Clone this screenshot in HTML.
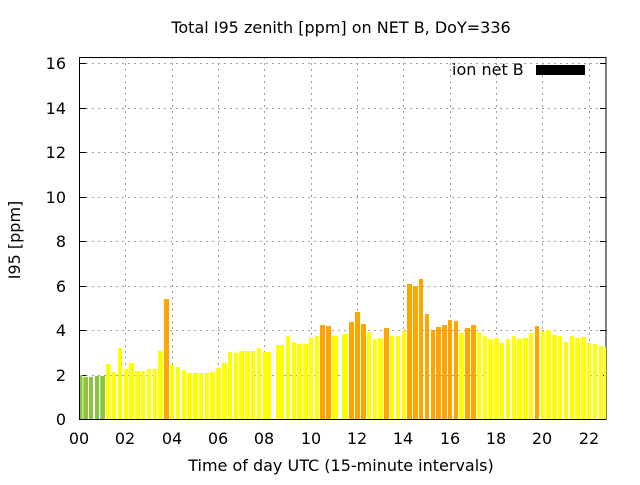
<!DOCTYPE html>
<html><head><meta charset="utf-8"><style>
html,body{margin:0;padding:0;background:#fff}
svg text{font-family:"DejaVu Sans","Liberation Sans",sans-serif;font-size:16px;fill:#000}
</style></head><body>
<svg width="640" height="480" xmlns="http://www.w3.org/2000/svg">
<g stroke="#a0a0a0" stroke-width="1" stroke-dasharray="2,4">
<line x1="80" y1="375.5" x2="606" y2="375.5"/><line x1="80" y1="330.5" x2="606" y2="330.5"/>
<line x1="80" y1="286.5" x2="606" y2="286.5"/><line x1="80" y1="241.5" x2="606" y2="241.5"/>
<line x1="80" y1="197.5" x2="606" y2="197.5"/><line x1="80" y1="152.5" x2="606" y2="152.5"/>
<line x1="80" y1="108.5" x2="606" y2="108.5"/><line x1="80" y1="63.5" x2="606" y2="63.5"/>
<line x1="125.5" y1="57" x2="125.5" y2="419"/><line x1="172.5" y1="57" x2="172.5" y2="419"/>
<line x1="218.5" y1="57" x2="218.5" y2="419"/><line x1="264.5" y1="57" x2="264.5" y2="419"/>
<line x1="311.5" y1="57" x2="311.5" y2="419"/><line x1="357.5" y1="57" x2="357.5" y2="419"/>
<line x1="403.5" y1="57" x2="403.5" y2="419"/><line x1="450.5" y1="57" x2="450.5" y2="419"/>
<line x1="496.5" y1="57" x2="496.5" y2="419"/><line x1="542.5" y1="57" x2="542.5" y2="419"/>
<line x1="589.5" y1="57" x2="589.5" y2="419"/>
</g>
<rect x="536" y="65" width="49" height="10" fill="#000"/>
<text x="452" y="75">ion net B</text>
<rect x="79.5" y="57.5" width="526.5" height="362" fill="none" stroke="#000" stroke-width="1"/>
<g stroke="#000">
<line x1="80" y1="375.5" x2="86" y2="375.5"/><line x1="80" y1="330.5" x2="86" y2="330.5"/>
<line x1="80" y1="286.5" x2="86" y2="286.5"/><line x1="80" y1="241.5" x2="86" y2="241.5"/>
<line x1="80" y1="197.5" x2="86" y2="197.5"/><line x1="80" y1="152.5" x2="86" y2="152.5"/>
<line x1="80" y1="108.5" x2="86" y2="108.5"/><line x1="80" y1="63.5" x2="86" y2="63.5"/>
<line x1="606" y1="375.5" x2="600" y2="375.5"/><line x1="606" y1="330.5" x2="600" y2="330.5"/>
<line x1="606" y1="286.5" x2="600" y2="286.5"/><line x1="606" y1="241.5" x2="600" y2="241.5"/>
<line x1="606" y1="197.5" x2="600" y2="197.5"/><line x1="606" y1="152.5" x2="600" y2="152.5"/>
<line x1="606" y1="108.5" x2="600" y2="108.5"/><line x1="606" y1="63.5" x2="600" y2="63.5"/>
</g>
<g text-anchor="end">
<text x="66" y="425">0</text><text x="66" y="381">2</text><text x="66" y="336">4</text>
<text x="66" y="292">6</text><text x="66" y="247">8</text><text x="66" y="203">10</text>
<text x="66" y="158">12</text><text x="66" y="114">14</text><text x="66" y="69">16</text>
</g>
<g text-anchor="middle">
<text x="79" y="444">00</text><text x="125" y="444">02</text><text x="172" y="444">04</text>
<text x="218" y="444">06</text><text x="264" y="444">08</text><text x="311" y="444">10</text>
<text x="357" y="444">12</text><text x="403" y="444">14</text><text x="450" y="444">16</text>
<text x="496" y="444">18</text><text x="542" y="444">20</text><text x="589" y="444">22</text>
<text x="341" y="471">Time of day UTC (15-minute intervals)</text>
<text x="341" y="33">Total I95 zenith [ppm] on NET B, DoY=336</text>
<text transform="translate(20,240) rotate(-90)">I95 [ppm]</text>
</g>
<g>
<rect x="80" y="375" width="2.5" height="44" fill="#8cc43c"/>
<rect x="83.3" y="377" width="4.7" height="42" fill="#8cc43c"/>
<rect x="89" y="377" width="4" height="42" fill="#8cc43c"/>
<rect x="95" y="376" width="4" height="43" fill="#8cc43c"/>
<rect x="100.3" y="376" width="4.7" height="43" fill="#8cc43c"/>
<rect x="106" y="364" width="4.7" height="55" fill="#ffff00"/>
<rect x="112" y="372" width="4" height="47" fill="#ffff00"/>
<rect x="118" y="348" width="4" height="71" fill="#ffff00"/>
<rect x="124" y="369" width="4" height="50" fill="#ffff00"/>
<rect x="129" y="363" width="5" height="56" fill="#ffff00"/>
<rect x="135" y="371" width="5" height="48" fill="#ffff00"/>
<rect x="141" y="371" width="4" height="48" fill="#ffff00"/>
<rect x="147" y="369" width="4" height="50" fill="#ffff00"/>
<rect x="153" y="369" width="4" height="50" fill="#ffff00"/>
<rect x="158" y="351" width="5" height="68" fill="#ffff00"/>
<rect x="164" y="299" width="5" height="120" fill="#ffa500"/>
<rect x="170" y="365" width="4" height="54" fill="#ffff00"/>
<rect x="176" y="367" width="4" height="52" fill="#ffff00"/>
<rect x="182" y="370" width="4" height="49" fill="#ffff00"/>
<rect x="187" y="373" width="5" height="46" fill="#ffff00"/>
<rect x="193" y="373" width="5" height="46" fill="#ffff00"/>
<rect x="199" y="373" width="4" height="46" fill="#ffff00"/>
<rect x="205" y="373" width="4" height="46" fill="#ffff00"/>
<rect x="210" y="372" width="5" height="47" fill="#ffff00"/>
<rect x="216" y="368" width="5" height="51" fill="#ffff00"/>
<rect x="222" y="363" width="5" height="56" fill="#ffff00"/>
<rect x="228" y="352" width="4" height="67" fill="#ffff00"/>
<rect x="234" y="353" width="4" height="66" fill="#ffff00"/>
<rect x="239" y="351" width="5" height="68" fill="#ffff00"/>
<rect x="245" y="351" width="5" height="68" fill="#ffff00"/>
<rect x="251" y="351" width="4" height="68" fill="#ffff00"/>
<rect x="257" y="348" width="4" height="71" fill="#ffff00"/>
<rect x="263" y="352" width="8" height="67" fill="#ffff00"/>
<rect x="276" y="345" width="8" height="74" fill="#ffff00"/>
<rect x="286" y="336" width="4" height="83" fill="#ffff00"/>
<rect x="292" y="342" width="4" height="77" fill="#ffff00"/>
<rect x="297" y="344" width="5" height="75" fill="#ffff00"/>
<rect x="303" y="344" width="5" height="75" fill="#ffff00"/>
<rect x="309" y="338" width="4" height="81" fill="#ffff00"/>
<rect x="315" y="336" width="4" height="83" fill="#ffff00"/>
<rect x="320" y="325" width="5" height="94" fill="#ffa500"/>
<rect x="326" y="326" width="5" height="93" fill="#ffa500"/>
<rect x="332" y="336" width="6" height="83" fill="#ffff00"/>
<rect x="342" y="334" width="6" height="85" fill="#ffff00"/>
<rect x="349" y="322" width="5" height="97" fill="#ffa500"/>
<rect x="355" y="312" width="5" height="107" fill="#ffa500"/>
<rect x="361" y="324" width="5" height="95" fill="#ffa500"/>
<rect x="367" y="332" width="4" height="87" fill="#ffff00"/>
<rect x="373" y="339" width="4" height="80" fill="#ffff00"/>
<rect x="378" y="338" width="5" height="81" fill="#ffff00"/>
<rect x="384" y="328" width="5" height="91" fill="#ffa500"/>
<rect x="390" y="336" width="4" height="83" fill="#ffff00"/>
<rect x="396" y="336" width="4" height="83" fill="#ffff00"/>
<rect x="402" y="331" width="4" height="88" fill="#ffff00"/>
<rect x="407" y="284" width="5" height="135" fill="#ffa500"/>
<rect x="413" y="286" width="5" height="133" fill="#ffa500"/>
<rect x="419" y="279" width="4" height="140" fill="#ffa500"/>
<rect x="425" y="314" width="4" height="105" fill="#ffa500"/>
<rect x="431" y="330" width="4" height="89" fill="#ffa500"/>
<rect x="436" y="327" width="5" height="92" fill="#ffa500"/>
<rect x="442" y="325" width="5" height="94" fill="#ffa500"/>
<rect x="448" y="320" width="4" height="99" fill="#ffa500"/>
<rect x="454" y="321" width="4" height="98" fill="#ffa500"/>
<rect x="459" y="333" width="5" height="86" fill="#ffff00"/>
<rect x="465" y="328" width="5" height="91" fill="#ffa500"/>
<rect x="471" y="325" width="5" height="94" fill="#ffa500"/>
<rect x="477" y="332" width="4" height="87" fill="#ffff00"/>
<rect x="483" y="336" width="4" height="83" fill="#ffff00"/>
<rect x="488" y="339" width="5" height="80" fill="#ffff00"/>
<rect x="494" y="338" width="5" height="81" fill="#ffff00"/>
<rect x="500" y="343" width="4" height="76" fill="#ffff00"/>
<rect x="506" y="339" width="4" height="80" fill="#ffff00"/>
<rect x="512" y="336" width="4" height="83" fill="#ffff00"/>
<rect x="517" y="339" width="5" height="80" fill="#ffff00"/>
<rect x="523" y="338" width="5" height="81" fill="#ffff00"/>
<rect x="529" y="333" width="4" height="86" fill="#ffff00"/>
<rect x="535" y="326" width="4" height="93" fill="#ffa500"/>
<rect x="541" y="331" width="4" height="88" fill="#ffff00"/>
<rect x="546" y="330" width="5" height="89" fill="#ffff00"/>
<rect x="552" y="335" width="5" height="84" fill="#ffff00"/>
<rect x="558" y="336" width="4" height="83" fill="#ffff00"/>
<rect x="564" y="342" width="4" height="77" fill="#ffff00"/>
<rect x="570" y="336" width="4" height="83" fill="#ffff00"/>
<rect x="575" y="338" width="5" height="81" fill="#ffff00"/>
<rect x="581" y="337" width="5" height="82" fill="#ffff00"/>
<rect x="587" y="343" width="4" height="76" fill="#ffff00"/>
<rect x="593" y="344" width="4" height="75" fill="#ffff00"/>
<rect x="599" y="346" width="4" height="73" fill="#ffff00"/>
<rect x="604" y="347" width="2" height="72" fill="#ffff00"/>
</g>
<line x1="79.5" y1="57" x2="79.5" y2="420" stroke="#000"/>
<line x1="79" y1="419.5" x2="606" y2="419.5" stroke="#000"/>
</svg>
</body></html>
